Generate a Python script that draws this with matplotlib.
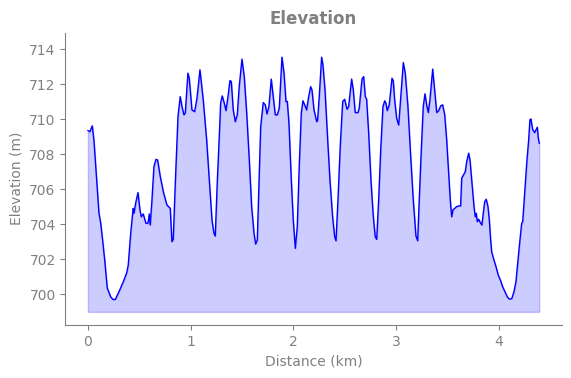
import matplotlib
matplotlib.use("Agg")
import matplotlib.pyplot as plt

distance_km = [
    0.000, 0.019, 0.042, 0.058, 0.085, 0.107, 0.124, 0.139, 0.163, 0.188,
    0.221, 0.243, 0.266, 0.302, 0.344, 0.377, 0.392, 0.416, 0.435, 0.441,
    0.448, 0.464, 0.487, 0.506, 0.519, 0.538, 0.564, 0.584, 0.597, 0.606,
    0.623, 0.642, 0.662, 0.678, 0.704, 0.737, 0.769, 0.801, 0.817, 0.830,
    0.850, 0.876, 0.898, 0.915, 0.934, 0.947, 0.973, 0.986, 1.012, 1.038,
    1.061, 1.090, 1.122, 1.155, 1.187, 1.207, 1.226, 1.239, 1.258, 1.278,
    1.291, 1.307, 1.327, 1.343, 1.363, 1.382, 1.395, 1.414, 1.434, 1.453,
    1.472, 1.499, 1.521, 1.545, 1.570, 1.593, 1.616, 1.632, 1.648, 1.667,
    1.681, 1.706, 1.726, 1.742, 1.761, 1.784, 1.807, 1.823, 1.842, 1.862,
    1.888, 1.908, 1.927, 1.940, 1.956, 1.979, 1.998, 2.018, 2.037, 2.056,
    2.076, 2.092, 2.109, 2.128, 2.148, 2.167, 2.180, 2.200, 2.226, 2.235,
    2.251, 2.274, 2.287, 2.307, 2.333, 2.355, 2.381, 2.401, 2.414, 2.433,
    2.455, 2.479, 2.498, 2.521, 2.537, 2.566, 2.582, 2.601, 2.628, 2.640,
    2.667, 2.683, 2.699, 2.712, 2.732, 2.754, 2.777, 2.796, 2.810, 2.829,
    2.849, 2.871, 2.888, 2.900, 2.913, 2.932, 2.959, 2.971, 2.985, 3.004,
    3.024, 3.043, 3.069, 3.088, 3.114, 3.141, 3.166, 3.192, 3.209, 3.224,
    3.244, 3.263, 3.280, 3.296, 3.312, 3.328, 3.355, 3.374, 3.394, 3.413,
    3.433, 3.452, 3.472, 3.491, 3.510, 3.526, 3.540, 3.552, 3.569, 3.588,
    3.608, 3.627, 3.637, 3.659, 3.672, 3.686, 3.705, 3.718, 3.737, 3.757,
    3.769, 3.779, 3.789, 3.802, 3.822, 3.834, 3.847, 3.861, 3.876, 3.893,
    3.906, 3.919, 3.929, 3.951, 3.971, 3.993, 4.016, 4.036, 4.058, 4.081,
    4.100, 4.124, 4.146, 4.165, 4.185, 4.204, 4.221, 4.231, 4.250, 4.270,
    4.289, 4.301, 4.311, 4.327, 4.346, 4.360, 4.373, 4.383, 4.392,
]

elevation_m = [
    709.35, 709.29, 709.62, 708.82, 706.53, 704.65, 704.07, 703.29, 701.96, 700.36,
    699.86, 699.71, 699.71, 700.15, 700.72, 701.23, 701.67, 703.49, 704.63, 704.91,
    704.63, 705.20, 705.81, 704.82, 704.43, 704.59, 704.06, 704.06, 704.59, 703.96,
    705.39, 707.29, 707.71, 707.67, 706.72, 705.77, 705.10, 704.91, 703.01, 703.14,
    706.34, 710.15, 711.29, 710.72, 710.25, 710.36, 712.63, 712.34, 710.53, 710.43,
    711.20, 712.82, 711.10, 708.82, 705.96, 704.25, 703.49, 703.33, 706.34, 709.01,
    710.91, 711.33, 710.91, 710.49, 711.29, 712.21, 712.15, 710.53, 709.86, 710.25,
    711.86, 713.43, 712.43, 710.34, 707.67, 705.01, 703.49, 702.87, 703.10, 706.93,
    709.58, 710.95, 710.82, 710.30, 710.72, 712.29, 711.10, 710.25, 710.25, 710.63,
    713.54, 712.63, 711.01, 711.01, 709.77, 706.53, 704.25, 702.63, 703.86, 707.29,
    710.34, 711.05, 710.82, 710.53, 711.29, 711.86, 711.67, 710.53, 709.86, 709.96,
    711.29, 713.54, 713.10, 711.67, 708.82, 706.53, 704.43, 703.29, 703.06, 705.39,
    708.43, 711.01, 711.14, 710.57, 710.72, 712.29, 711.67, 710.38, 710.38, 710.63,
    712.29, 712.43, 711.29, 711.14, 709.20, 706.53, 704.43, 703.29, 703.14, 705.39,
    708.25, 710.72, 711.05, 710.91, 710.49, 710.82, 712.34, 712.21, 711.10, 710.06,
    709.67, 711.20, 713.23, 712.63, 710.72, 707.86, 705.39, 703.33, 703.06, 705.39,
    708.25, 710.72, 711.45, 710.82, 710.38, 711.10, 712.86, 711.67, 710.38, 710.49,
    710.76, 710.82, 710.25, 708.82, 706.91, 705.39, 704.43, 704.82, 704.91, 705.01,
    705.05, 705.05, 706.63, 706.87, 707.01, 707.58, 708.06, 707.67, 706.34, 705.01,
    704.43, 704.63, 704.15, 704.29, 704.06, 703.96, 704.63, 705.29, 705.43, 705.01,
    704.25, 703.10, 702.43, 701.96, 701.58, 701.10, 700.78, 700.43, 700.15, 699.86,
    699.73, 699.75, 700.15, 700.72, 701.96, 703.10, 704.06, 704.15, 705.77, 707.49,
    708.82, 709.96, 710.02, 709.43, 709.23, 709.39, 709.54, 708.91, 708.63,
]

fill_base = 699
y_ticks = [700, 702, 704, 706, 708, 710, 712, 714]
x_ticks = [0, 1, 2, 3, 4]

fig = plt.figure(figsize=(5.71, 3.78), dpi=100)
ax = fig.add_axes([0.1145, 0.1402, 0.8694, 0.7738])

ax.fill_between(distance_km, elevation_m, fill_base, color="blue", alpha=0.2)
ax.plot(distance_km, elevation_m, color="blue", linewidth=1.0)

ax.set_xticks(x_ticks)
ax.set_yticks(y_ticks)
ax.set_ylim(698.25, 714.95)

grey = "#808080"
for side in ["top", "right"]:
    ax.spines[side].set_visible(False)
for side in ["left", "bottom"]:
    ax.spines[side].set_color(grey)
ax.tick_params(colors=grey, labelsize=10)

ax.set_xlabel("Distance (km)", color=grey, fontsize=10)
ax.set_ylabel("Elevation (m)", color=grey, fontsize=10)
ax.set_title("Elevation", color=grey, fontsize=12, fontweight="bold")

fig.savefig("out.png", dpi=100)
